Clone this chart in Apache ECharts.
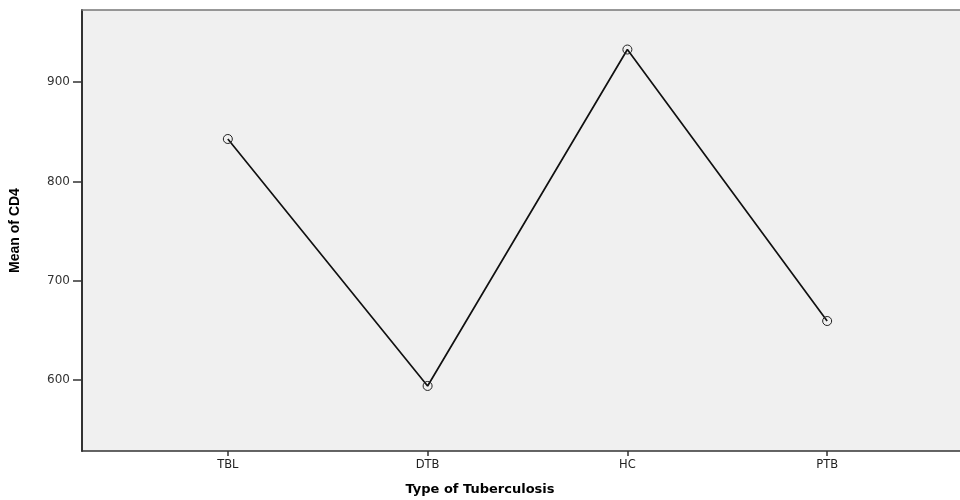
<!DOCTYPE html>
<html>
<head>
<meta charset="utf-8">
<script src="https://cdn.jsdelivr.net/npm/echarts@6/dist/echarts.min.js"></script>
<style>html,body{margin:0;padding:0;background:#fff}#c{width:960px;height:500px}</style>
</head>
<body>
<div id="c"></div>
<script>
var categories = ['TBL', 'DTB', 'HC', 'PTB'];
var meanCD4 = [842.7, 594, 932.8, 659.4];
var yTicks = [600, 700, 800, 900];
var xTickIdx = [0, 1, 2, 3];

var chart = echarts.init(document.getElementById('c'), null, {renderer: 'canvas'});
var data = meanCD4.map(function (v, i) { return [i, v]; });
var option = {
  animation: false,
  title: {
    text: 'Type of Tuberculosis',
    left: 'center', top: 478,
    textStyle: {fontFamily: 'DejaVu Sans', fontWeight: 'bold', fontSize: 13, color: '#000'}
  },
  grid: {
    left: 81, right: 0, top: 10, bottom: 49,
    show: true, backgroundColor: '#f0f0f0', borderWidth: 0
  },
  xAxis: [{
    type: 'value', min: -0.73, max: 3.665,
    splitLine: {show: false},
    axisLine: {show: true, onZero: false, lineStyle: {color: '#333', width: 1.5}},
    axisTick: {show: true, customValues: xTickIdx, length: 5, lineStyle: {color: '#333', width: 1.5}},
    axisLabel: {
      customValues: xTickIdx, margin: 8,
      formatter: function (v) { return categories[Math.round(v)] || ''; },
      fontFamily: 'DejaVu Sans', fontSize: 11.5, color: '#222'
    }
  }, {
    type: 'value', position: 'top', min: -0.73, max: 3.665,
    splitLine: {show: false},
    axisLine: {show: true, onZero: false, lineStyle: {color: '#777', width: 1.5}},
    axisTick: {show: false}, axisLabel: {show: false}
  }],
  yAxis: {
    type: 'value', min: 528.5, max: 972.6,
    name: 'Mean of CD4', nameLocation: 'middle', nameGap: 60,
    nameTextStyle: {fontFamily: 'Liberation Sans', fontWeight: 'bold', fontSize: 14, color: '#000'},
    splitLine: {show: false},
    axisLine: {show: true, onZero: false, lineStyle: {color: '#333', width: 2}},
    axisTick: {show: true, customValues: yTicks, length: 9, lineStyle: {color: '#333', width: 1.5}},
    axisLabel: {
      customValues: yTicks, margin: 12,
      fontFamily: 'DejaVu Sans', fontSize: 12, color: '#333'
    }
  },
  series: [{
    type: 'line', data: data, xAxisIndex: 0,
    symbol: 'circle', symbolSize: 9,
    itemStyle: {color: 'rgba(0,0,0,0)', borderColor: '#222', borderWidth: 1},
    lineStyle: {color: '#111', width: 1.7}
  }]
};
chart.setOption(option);
</script>
</body>
</html>
